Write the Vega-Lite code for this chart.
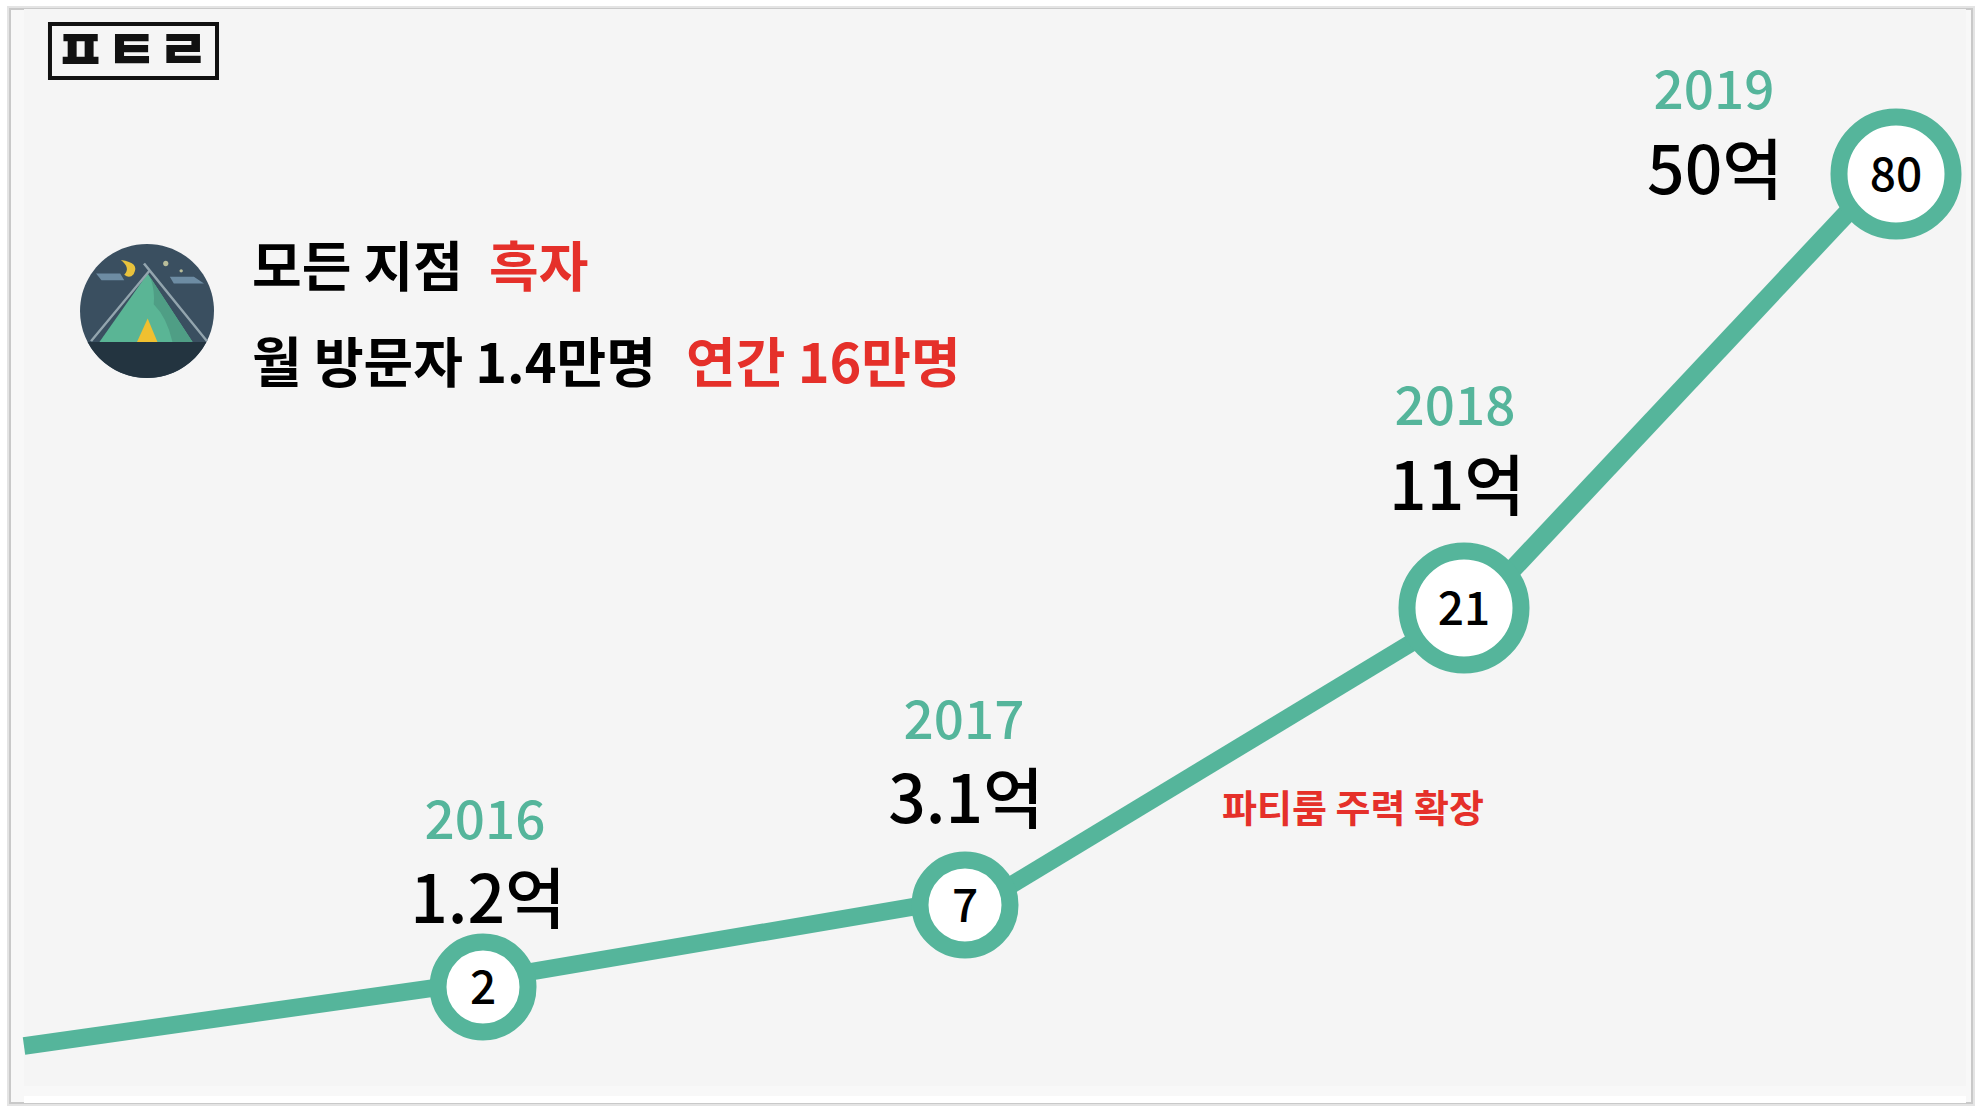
{
"$schema":"https://vega.github.io/schema/vega-lite/v6.json",
"width":1982,"height":1114,
"autosize":"none",
"padding":0,
"background":"#ffffff",
"view":{"stroke":null},
"config":{"text":{"font":"Noto Sans CJK KR"}},
"resolve":{"scale":{"color":"independent","shape":"independent","size":"independent"}},
"datasets":{
"series":[
{"year":2016,"stores":2,"revenue":"1.2억"},
{"year":2017,"stores":7,"revenue":"3.1억"},
{"year":2018,"stores":21,"revenue":"11억"},
{"year":2019,"stores":80,"revenue":"50억"}],
"segments":[
{"segment":"a","year":2015,"trend":1.017},
{"segment":"a","year":2016,"trend":2.366},
{"segment":"b","year":2016,"trend":2.427},
{"segment":"b","year":2017,"trend":7.33},
{"segment":"c","year":2017,"trend":6.512},
{"segment":"c","year":2018,"trend":20.859},
{"segment":"d","year":2018,"trend":20.387},
{"segment":"d","year":2019,"trend":81.77}],
"panels":[
{"part":"shadow","x":2014.9695,"x2":2019.1759,"y":102.43,"y2":0.0667},
{"part":"card","x":2014.9695,"x2":2019.1759,"y":102.43,"y2":0.0667},
{"part":"inner","x":2015,"x2":2019.162,"y":102.43,"y2":0.35},
{"part":"strip","x":2015,"x2":2019.162,"y":0.1833,"y2":0.0667}],
"icon":[
{"part":"sky","x":2015.268,"y":61.37},
{"part":"ground","x":2015.268,"y":61.37},
{"part":"clouds","x":2015.268,"y":61.37},
{"part":"stars","x":2015.268,"y":61.37},
{"part":"moon","x":2015.268,"y":61.37},
{"part":"tent","x":2015.268,"y":61.37},
{"part":"fold","x":2015.268,"y":61.37},
{"part":"door","x":2015.268,"y":61.37},
{"part":"poles","x":2015.268,"y":61.37}],
"notes":[
{"label":"모든 지점","x":2015.4967,"y":66.81,"tone":"black"},
{"label":"흑자","x":2016.0124,"y":66.81,"tone":"red"},
{"label":"월 방문자 1.4만명","x":2015.4967,"y":53.76,"tone":"black"},
{"label":"연간 16만명","x":2016.4212,"y":53.76,"tone":"red"}]
},
"encoding":{},
"layer":[
{"data":{"name":"panels"},"transform":[{"filter":"datum.part==='shadow'"}],"mark":{"type":"rect","fill":"#ffffff","stroke":"#e4e4e4","strokeWidth":6},
 "encoding":{"x":{"field":"x","type":"quantitative","axis":null,"scale":{"domain":[2015,2016,2017,2018,2019],"range":[24,483,965,1464,1896],"nice":false,"zero":false}},"x2":{"field":"x2"},
 "y":{"field":"y","type":"quantitative","axis":null,"scale":{"domain":[1,2,7,21,80],"range":[1047,987,905,608,174],"nice":false,"zero":false}},"y2":{"field":"y2"}}},
{"data":{"name":"panels"},"transform":[{"filter":"datum.part==='card'"}],"mark":{"type":"rect","fill":"#f8f8f8","stroke":"#c9c9c9","strokeWidth":2},
 "encoding":{"x":{"field":"x","type":"quantitative"},"x2":{"field":"x2"},"y":{"field":"y","type":"quantitative"},"y2":{"field":"y2"}}},
{"data":{"name":"panels"},"transform":[{"filter":"datum.part==='inner'"}],"mark":{"type":"rect","fill":"#f5f5f5"},
 "encoding":{"x":{"field":"x","type":"quantitative"},"x2":{"field":"x2"},"y":{"field":"y","type":"quantitative"},"y2":{"field":"y2"}}},
{"data":{"name":"panels"},"transform":[{"filter":"datum.part==='strip'"}],"mark":{"type":"rect","fill":"#ffffff"},
 "encoding":{"x":{"field":"x","type":"quantitative"},"x2":{"field":"x2"},"y":{"field":"y","type":"quantitative"},"y2":{"field":"y2"}}},
{"data":{"name":"segments"},"transform":[{"filter":"datum.segment!=='d'"}],"mark":{"type":"line","color":"#55b59b","strokeWidth":17.5,"strokeCap":"butt"},
 "encoding":{"x":{"field":"year","type":"quantitative"},"y":{"field":"trend","type":"quantitative"},"detail":{"field":"segment","type":"nominal"}}},
{"data":{"name":"segments"},"transform":[{"filter":"datum.segment==='d'"}],"mark":{"type":"line","color":"#55b59b","strokeWidth":19,"strokeCap":"butt"},
 "encoding":{"x":{"field":"year","type":"quantitative"},"y":{"field":"trend","type":"quantitative"}}},
{"data":{"name":"series"},"mark":{"type":"point","filled":false,"fill":"#ffffff","fillOpacity":1,"stroke":"#55b59b","strokeWidth":17,"opacity":1},
 "encoding":{"x":{"field":"year","type":"quantitative"},"y":{"field":"stores","type":"quantitative"},
 "size":{"field":"stores","type":"quantitative","legend":null,"scale":{"type":"threshold","domain":[10],"range":[8100,13000]}}}},
{"data":{"name":"series"},"mark":{"type":"text","fontSize":46,"fontWeight":500,"color":"#000000","baseline":"middle","align":"center","dy":3},
 "encoding":{"x":{"field":"year","type":"quantitative"},"y":{"field":"stores","type":"quantitative"},"text":{"field":"stores","type":"nominal"}}},
{"data":{"name":"series"},"transform":[{"filter":"datum.year==2016"}],"mark":{"type":"text","fontSize":53,"fontWeight":500,"color":"#55b59b","baseline":"middle","align":"center","dx":2,"dy":-164},
 "encoding":{"x":{"field":"year","type":"quantitative"},"y":{"field":"stores","type":"quantitative"},"text":{"field":"year","type":"nominal"}}},
{"data":{"name":"series"},"transform":[{"filter":"datum.year==2017"}],"mark":{"type":"text","fontSize":53,"fontWeight":500,"color":"#55b59b","baseline":"middle","align":"center","dx":-1,"dy":-182},
 "encoding":{"x":{"field":"year","type":"quantitative"},"y":{"field":"stores","type":"quantitative"},"text":{"field":"year","type":"nominal"}}},
{"data":{"name":"series"},"transform":[{"filter":"datum.year==2018"}],"mark":{"type":"text","fontSize":53,"fontWeight":500,"color":"#55b59b","baseline":"middle","align":"center","dx":-9,"dy":-199},
 "encoding":{"x":{"field":"year","type":"quantitative"},"y":{"field":"stores","type":"quantitative"},"text":{"field":"year","type":"nominal"}}},
{"data":{"name":"series"},"transform":[{"filter":"datum.year==2019"}],"mark":{"type":"text","fontSize":53,"fontWeight":500,"color":"#55b59b","baseline":"middle","align":"center","dx":-182,"dy":-81},
 "encoding":{"x":{"field":"year","type":"quantitative"},"y":{"field":"stores","type":"quantitative"},"text":{"field":"year","type":"nominal"}}},
{"data":{"name":"series"},"transform":[{"filter":"datum.year==2016"}],"mark":{"type":"text","fontSize":66,"fontWeight":500,"color":"#000000","baseline":"middle","align":"center","dx":5,"dy":-84},
 "encoding":{"x":{"field":"year","type":"quantitative"},"y":{"field":"stores","type":"quantitative"},"text":{"field":"revenue","type":"nominal"}}},
{"data":{"name":"series"},"transform":[{"filter":"datum.year==2017"}],"mark":{"type":"text","fontSize":66,"fontWeight":500,"color":"#000000","baseline":"middle","align":"center","dx":1,"dy":-102},
 "encoding":{"x":{"field":"year","type":"quantitative"},"y":{"field":"stores","type":"quantitative"},"text":{"field":"revenue","type":"nominal"}}},
{"data":{"name":"series"},"transform":[{"filter":"datum.year==2018"}],"mark":{"type":"text","fontSize":66,"fontWeight":500,"color":"#000000","baseline":"middle","align":"center","dx":-7,"dy":-118},
 "encoding":{"x":{"field":"year","type":"quantitative"},"y":{"field":"stores","type":"quantitative"},"text":{"field":"revenue","type":"nominal"}}},
{"data":{"name":"series"},"transform":[{"filter":"datum.year==2019"}],"mark":{"type":"text","fontSize":66,"fontWeight":500,"color":"#000000","baseline":"middle","align":"center","dx":-181,"dy":0},
 "encoding":{"x":{"field":"year","type":"quantitative"},"y":{"field":"stores","type":"quantitative"},"text":{"field":"revenue","type":"nominal"}}},
{"data":{"name":"notes"},"transform":[{"filter":"datum.tone==='black'"}],"mark":{"type":"text","fontSize":54,"fontWeight":700,"color":"#000000","baseline":"middle","align":"left"},
 "encoding":{"x":{"field":"x","type":"quantitative"},"y":{"field":"y","type":"quantitative"},"text":{"field":"label","type":"nominal"}}},
{"data":{"name":"notes"},"transform":[{"filter":"datum.tone==='red'"}],"mark":{"type":"text","fontSize":54,"fontWeight":700,"color":"#e5302a","baseline":"middle","align":"left"},
 "encoding":{"x":{"field":"x","type":"quantitative"},"y":{"field":"y","type":"quantitative"},"text":{"field":"label","type":"nominal"}}},
{"data":{"values":[{"label":"파티룸 주력 확장","x":2017.7776,"y":11.43}]},"mark":{"type":"text","fontSize":38,"fontWeight":700,"color":"#e5302a","baseline":"middle","align":"center"},
 "encoding":{"x":{"field":"x","type":"quantitative"},"y":{"field":"y","type":"quantitative"},"text":{"field":"label","type":"nominal"}}},
{"data":{"values":[{"x":2015.0566,"x2":2015.4205,"y":100.4,"y2":93.05}]},"mark":{"type":"rect","fill":"#ffffff","fillOpacity":0,"stroke":"#111111","strokeWidth":4},
 "encoding":{"x":{"field":"x","type":"quantitative"},"x2":{"field":"x2"},"y":{"field":"y","type":"quantitative"},"y2":{"field":"y2"}}},
{"data":{"values":[{"label":"ㅍㅌㄹ","x":2015.2353,"y":96.86}]},"mark":{"type":"text","fontSize":56,"fontWeight":900,"color":"#111111","baseline":"middle","align":"center","dy":3},
 "encoding":{"x":{"field":"x","type":"quantitative"},"y":{"field":"y","type":"quantitative"},"text":{"field":"label","type":"nominal"}}},
{"data":{"name":"icon"},"mark":{"type":"point","filled":true,"opacity":1,"size":17956},
 "encoding":{"x":{"field":"x","type":"quantitative"},"y":{"field":"y","type":"quantitative"},
 "shape":{"field":"part","type":"nominal","legend":null,"scale":{"domain":["sky","ground","clouds","stars","moon","tent","fold","door","poles"],
 "range":["M-1,0A1,1 0 1 1 1,0A1,1 0 1 1 -1,0Z",
 "M-.886,.463A1,1 0 0 0 .886,.463Z",
 "M-.76,-.56L-.4,-.56L-.34,-.46L-.68,-.46ZM.34,-.51L.7,-.51L.85,-.41L.4,-.41Z",
 "M.24,-.71A.04,.04 0 1 1 .32,-.71A.04,.04 0 1 1 .24,-.71ZM.485,-.6A.025,.025 0 1 1 .535,-.6A.025,.025 0 1 1 .485,-.6Z",
 "M-.39,-.76Q-.1,-.72 -.2,-.55Q-.26,-.48 -.34,-.54Q-.24,-.64 -.39,-.76Z",
 "M.01,-.56L.68,.463L-.71,.463Z",
 "M.05,-.5L.68,.463L.38,.463Q.3,.1 .1,-.1Q.12,-.3 .05,-.5Z",
 "M.01,.11L.156,.463L-.15,.463Z",
 "M-.85,.44L.02,-.61L.05,-.59L-.82,.46ZM.88,.46L-.06,-.7L-.03,-.72L.91,.44Z"]}},
 "color":{"field":"part","type":"nominal","legend":null,"scale":{"domain":["sky","ground","clouds","stars","moon","tent","fold","door","poles"],
 "range":["#3a4f60","#233440","#6d8ca3","#b9bd9a","#e8c23c","#5ab595","#4f9e85","#f0c030","#93a5ae"]}}}}
]
}
